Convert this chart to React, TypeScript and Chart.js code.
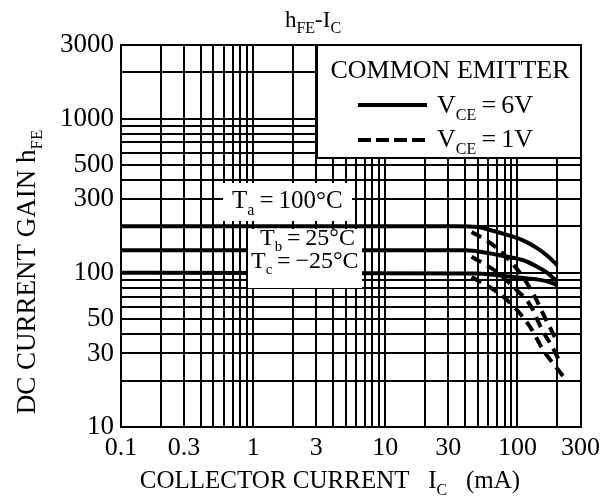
import React, { useEffect, useRef } from "react";
import { Chart, registerables } from "chart.js";

Chart.register(...registerables);

const FONT = '"Liberation Serif", "Times New Roman", serif';

// Axis tick labels
const xTickLabels = [0.1, 0.3, 1, 3, 10, 30, 100, 300];
const yTickLabels = [10, 30, 50, 100, 300, 500, 1000, 3000];
const gridSteps = [1, 2, 3, 4, 5, 6, 7, 8, 9];
const xDecades = [0.1, 1, 10, 100];
const yDecades = [10, 100, 1000];

// VCE = 6V (solid), IC in mA
const icA6 = [0.1, 35, 50, 61, 80, 109, 140, 170, 200];
const hfeA6 = [200, 200, 198, 190, 178, 163, 145, 128, 112];
const icB6 = [0.1, 40, 61, 80, 109, 140, 165, 200];
const hfeB6 = [140, 140, 134, 128, 121, 110, 101, 88];
const icC6 = [0.1, 50, 82, 120, 148, 175, 200];
const hfeC6 = [100, 99, 95, 92, 90, 87, 83];

// VCE = 1V (dashed)
const icA1 = [45, 63, 82, 110, 139, 160, 196];
const hfeA1 = [184, 155, 127, 94, 67, 52, 37];
const icB1 = [45, 70, 93, 126, 153, 180, 207];
const hfeB1 = [127, 101, 81, 61, 43, 34, 27];
const icC1 = [45, 72, 98, 128, 155, 185, 225];
const hfeC1 = [94, 74, 58, 43, 32, 26, 21];

const clean = (v: number) => Number(v.toPrecision(6));
const buildGrid = (decades: number[], max: number) => {
  const out: number[] = [];
  decades.forEach((d) => gridSteps.forEach((s) => {
    const v = clean(d * s);
    if (v <= max) out.push(v);
  }));
  if (!out.includes(max)) out.push(max);
  return out;
};
const xGrid = buildGrid(xDecades, 300);
const yGrid = buildGrid(yDecades, 3000);

const pts = (xs: number[], ys: number[]) => xs.map((x, i) => ({ x, y: ys[i] }));
const has = (arr: number[], v: number) => arr.some((a) => Math.abs(a - v) / a < 1e-6);

type Part = [string, boolean?];
function drawRich(ctx: CanvasRenderingContext2D, parts: Part[], x: number, y: number, size: number, align: "left" | "center", subRatio = 0.62) {
  const sub = Math.round(size * subRatio);
  const widths = parts.map(([t, s]) => {
    ctx.font = `${s ? sub : size}px ${FONT}`;
    return ctx.measureText(t).width;
  });
  const total = widths.reduce((a, b) => a + b, 0);
  let cx = align === "center" ? x - total / 2 : x;
  ctx.textAlign = "left";
  ctx.textBaseline = "alphabetic";
  parts.forEach(([t, s], i) => {
    ctx.font = `${s ? sub : size}px ${FONT}`;
    ctx.fillText(t, cx, s ? y + size * 0.27 : y);
    cx += widths[i];
  });
}

const annotate = {
  id: "annotate",
  afterDraw(chart: any) {
    const ctx: CanvasRenderingContext2D = chart.ctx;
    ctx.save();
    ctx.fillStyle = "#000";
    // Title
    drawRich(ctx, [["h"], ["FE", true], ["-I"], ["C", true]], 313, 27, 23, "center", 0.68);
    // X title
    drawRich(ctx, [["COLLECTOR CURRENT   I"], ["C", true], ["   (mA)"]], 330, 488, 25, "center");
    // Y title
    ctx.save();
    ctx.translate(35, 272);
    ctx.rotate(-Math.PI / 2);
    drawRich(ctx, [["DC CURRENT GAIN h"], ["FE", true]], 0, 0, 27, "center");
    ctx.restore();

    // Legend box
    ctx.fillStyle = "#fff";
    ctx.fillRect(317, 45, 264, 113);
    ctx.strokeStyle = "#000";
    ctx.lineWidth = 2;
    ctx.strokeRect(317, 45, 264, 113);
    ctx.fillStyle = "#000";
    drawRich(ctx, [["COMMON EMITTER"]], 450, 78, 26, "center");
    ctx.lineWidth = 4;
    ctx.beginPath();
    ctx.moveTo(358, 105);
    ctx.lineTo(427, 105);
    ctx.stroke();
    ctx.setLineDash([13, 5]);
    ctx.beginPath();
    ctx.moveTo(358, 140);
    ctx.lineTo(427, 140);
    ctx.stroke();
    ctx.setLineDash([]);
    drawRich(ctx, [["V"], ["CE", true], ["\u2009=\u20096V"]], 437, 113, 26, "left");
    drawRich(ctx, [["V"], ["CE", true], ["\u2009=\u20091V"]], 437, 147, 26, "left");

    // Temperature labels
    ctx.fillStyle = "#fff";
    ctx.fillRect(223, 183, 129, 38);
    ctx.fillRect(248, 229, 114, 59);
    ctx.fillStyle = "#000";
    drawRich(ctx, [["T"], ["a", true], ["\u2009=\u2009100°C"]], 232, 208, 25, "left");
    drawRich(ctx, [["T"], ["b", true], ["\u2009=\u200925°C"]], 260, 245, 24, "left");
    drawRich(ctx, [["T"], ["c", true], ["\u2009=\u2009\u221225°C"]], 251, 268, 24, "left");
    ctx.restore();
  },
};

export default function App() {
  const ref = useRef<HTMLCanvasElement | null>(null);
  useEffect(() => {
    if (!ref.current) return;
    const solid = { borderColor: "#000", borderWidth: 4, pointRadius: 0, cubicInterpolationMode: "monotone" as const, fill: false };
    const dashed = { ...solid, borderWidth: 4, borderDash: [11, 7] };
    const chart = new Chart(ref.current, {
      type: "line",
      data: {
        datasets: [
          { label: "Ta 6V", data: pts(icA6, hfeA6), ...solid },
          { label: "Tb 6V", data: pts(icB6, hfeB6), ...solid },
          { label: "Tc 6V", data: pts(icC6, hfeC6), ...solid },
          { label: "Ta 1V", data: pts(icA1, hfeA1), ...dashed },
          { label: "Tb 1V", data: pts(icB1, hfeB1), ...dashed },
          { label: "Tc 1V", data: pts(icC1, hfeC1), ...dashed },
        ],
      },
      options: {
        animation: false,
        responsive: false,
        maintainAspectRatio: false,
        parsing: false as any,
        layout: { padding: { left: 0, right: 25, top: 45, bottom: 0 } },
        plugins: { legend: { display: false }, tooltip: { enabled: false }, title: { display: false } },
        scales: {
          x: {
            type: "logarithmic",
            position: "bottom",
            min: 0.1,
            max: 300,
            afterBuildTicks: (s: any) => { s.ticks = xGrid.map((v) => ({ value: v })); },
            afterFit: (s: any) => { s.height = 71; },
            grid: { color: "#000", lineWidth: 2, drawTicks: false },
            border: { color: "#000", width: 2 },
            ticks: {
              autoSkip: false, maxRotation: 0, minRotation: 0, padding: 6, color: "#000",
              font: { family: FONT, size: 26 },
              callback: (v: any) => (has(xTickLabels, Number(v)) ? String(clean(Number(v))) : ""),
            },
          },
          y: {
            type: "logarithmic",
            position: "left",
            min: 10,
            max: 3000,
            afterBuildTicks: (s: any) => { s.ticks = yGrid.map((v) => ({ value: v })); },
            afterFit: (s: any) => { s.width = 121; },
            grid: { color: "#000", lineWidth: 2, drawTicks: false },
            border: { color: "#000", width: 2 },
            ticks: {
              autoSkip: false, padding: 7, color: "#000",
              font: { family: FONT, size: 27 },
              callback: (v: any) => (has(yTickLabels, Number(v)) ? String(clean(Number(v))) : ""),
            },
          },
        },
      },
      plugins: [annotate],
    });
    return () => chart.destroy();
  }, []);
  return (
    <div style={{ position: "fixed", left: 0, top: 0, width: 606, height: 498, background: "#fff" }}>
      <canvas ref={ref} width={606} height={498} style={{ width: 606, height: 498, display: "block" }} />
    </div>
  );
}
